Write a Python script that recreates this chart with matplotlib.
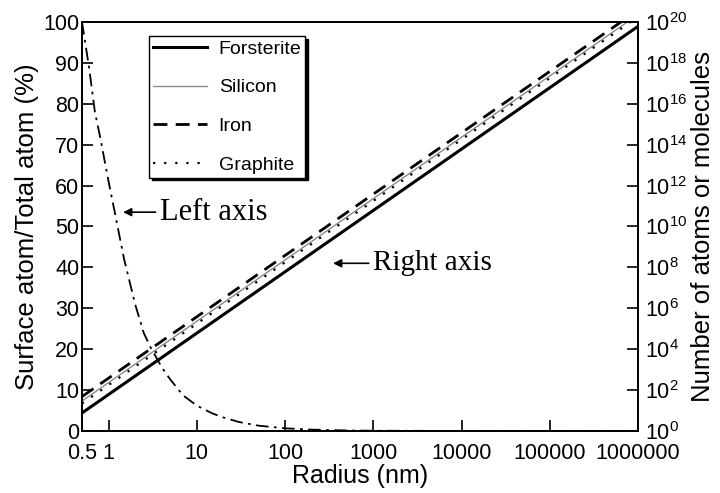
import matplotlib
matplotlib.use("Agg")
import matplotlib.pyplot as plt
from matplotlib.ticker import NullLocator

plt.rcParams['font.family'] = ['Liberation Sans', 'DejaVu Sans']
plt.rcParams['mathtext.default'] = 'regular'

# surface fraction curve (left axis)
radius_surf = [0.5, 0.6, 0.7, 0.8, 1.0, 1.2, 1.5, 2, 2.5, 3, 4, 5, 7, 10, 15, 20, 30, 50,
               100, 200, 500, 1000, 10000, 100000, 1000000]
surf_frac = [100, 89, 78, 72, 61, 52.5, 42, 31, 24, 20.4, 15.6, 12.6, 8.7, 6.2, 4.3, 3.3,
             2.2, 1.3, 0.66, 0.33, 0.13, 0.066, 0.0066, 0.00066, 0.000066]

# number of atoms (right axis): straight lines on log-log, end points
radius_n = [0.5, 1000000]
forsterite = [7.6, 6.1e19]
silicon = [29, 2.3e20]
iron = [48, 3.8e20]
graphite = [22, 1.8e20]

xticks = [0.5, 1, 10, 100, 1000, 10000, 100000, 1000000]
xticklabels = ["0.5", "1", "10", "100", "1000", "10000", "100000", "1000000"]

fig = plt.figure(figsize=(7.2, 4.93), dpi=100)
ax = fig.add_axes([0.1139, 0.1258, 0.7722, 0.8296])
ax2 = ax.twinx()

ax.plot(radius_surf, surf_frac, color='black', lw=1.3, ls=(0, (7, 3, 1.5, 3)))
ax.set_xscale('log')
ax.set_xlim(0.5, 1000000)
ax.set_ylim(0, 100)
ax.set_xticks(xticks)
ax.set_xticklabels(xticklabels)
ax.xaxis.set_minor_locator(NullLocator())
ax.set_yticks(range(0, 101, 10))
ax.tick_params(direction='in', length=8, width=1.2, labelsize=15.5, top=False)
ax.tick_params(axis='x', pad=9)
ax.tick_params(axis='y', pad=2)
ax.set_xlabel("Radius (nm)", fontsize=18, labelpad=0)
ax.set_ylabel("Surface atom/Total atom (%)", fontsize=18.5, labelpad=3)

ax2.plot(radius_n, forsterite, color='black', lw=2.2, label='Forsterite')
ax2.plot(radius_n, silicon, color='#8a8a8a', lw=1.0, label='Silicon')
ax2.plot(radius_n, iron, color='black', lw=2.0, ls=(0, (5, 3)), label='Iron')
ax2.plot(radius_n, graphite, color='black', lw=1.6, ls=(0, (1, 4)), label='Graphite')
ax2.set_yscale('log')
ax2.set_ylim(1, 1e20)
ax2.set_yticks([10.0 ** k for k in range(0, 21, 2)])
ax2.set_yticklabels(["$10^{%d}$" % k for k in range(0, 21, 2)])
ax2.yaxis.set_minor_locator(NullLocator())
ax2.tick_params(direction='in', length=8, width=1.2, labelsize=15.5, pad=5)
ax2.set_ylabel("Number of atoms or molecules", fontsize=18.5, labelpad=3)

for a in (ax, ax2):
    for s in a.spines.values():
        s.set_linewidth(1.3)

leg = ax2.legend(loc='upper left', bbox_to_anchor=(0.12, 0.965), borderaxespad=0,
                 fontsize=14, handlelength=2.8, handletextpad=0.6, labelspacing=1.08,
                 borderpad=0.2, fancybox=False, edgecolor='black', framealpha=1,
                 shadow={'color': 'black', 'alpha': 1})
leg.get_frame().set_linewidth(1.0)

ax.annotate("Left axis", xy=(1.46, 53.5), xytext=(3.8, 53.5), fontsize=22,
            family=['Liberation Serif'], va='center', ha='left',
            arrowprops=dict(arrowstyle='-|>', color='black', lw=1.2,
                            mutation_scale=12, shrinkA=1, shrinkB=0))
ax.annotate("Right axis", xy=(350, 41), xytext=(990, 41), fontsize=21,
            family=['Liberation Serif'], va='center', ha='left',
            arrowprops=dict(arrowstyle='-|>', color='black', lw=1.2,
                            mutation_scale=12, shrinkA=1, shrinkB=0))

fig.savefig("out.png", dpi=100)
